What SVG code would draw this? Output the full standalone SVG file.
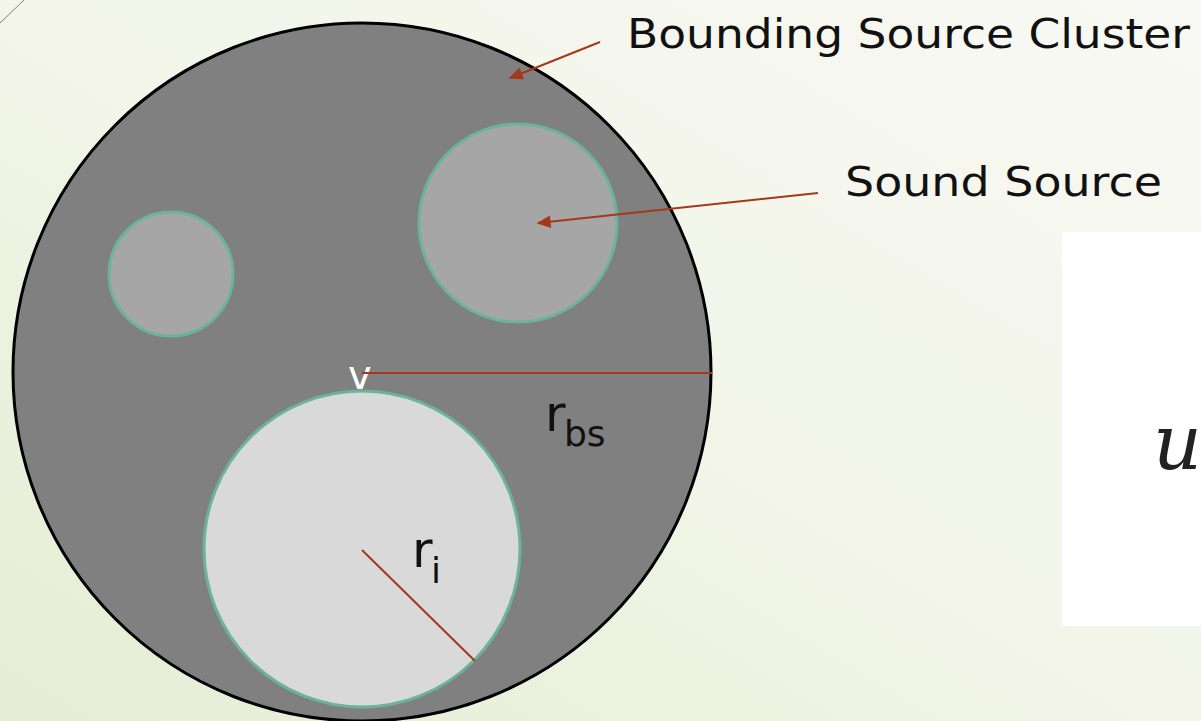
<svg xmlns="http://www.w3.org/2000/svg" width="1201" height="721" viewBox="0 0 1201 721">
<defs>
<linearGradient id="bg" x1="0" y1="1" x2="1" y2="0">
<stop offset="0" stop-color="#e6ecd4"/>
<stop offset="0.5" stop-color="#f2f5e8"/>
<stop offset="1" stop-color="#f8f9f4"/>
</linearGradient>
<marker id="ah" viewBox="0 0 10 10" refX="9" refY="5" markerWidth="7.5" markerHeight="7" orient="auto" markerUnits="strokeWidth">
<path d="M0,0.5 L10,5 L0,9.5 z" fill="#a5371b"/>
</marker>
<style>
.lbl{font-family:"DejaVu Sans","Liberation Sans",sans-serif;fill:#111;}
.src{stroke:#6bb39a;stroke-width:3;}
.con{stroke:#a5371b;stroke-width:2;fill:none;}
</style>
</defs>
<rect width="1201" height="721" fill="url(#bg)"/>
<line x1="0" y1="23" x2="24" y2="0" stroke="#8a7a6a" stroke-width="1"/>
<g id="cluster">
<circle cx="362" cy="372" r="349" fill="#808080" stroke="#000" stroke-width="3"/>
</g>
<g id="source-small">
<circle cx="171" cy="274" r="62" fill="#a6a6a6" class="src"/>
</g>
<g id="source-medium">
<circle cx="518" cy="223" r="99" fill="#a6a6a6" class="src"/>
</g>
<g id="source-large">
<circle cx="362" cy="549" r="158" fill="#d9d9d9" class="src"/>
</g>
<text x="348" y="389" class="lbl" font-size="40" style="fill:#fff">v</text>
<g id="connectors">
<line x1="600" y1="42" x2="510" y2="78" class="con" marker-end="url(#ah)"/>
<line x1="818" y1="193" x2="538" y2="223" class="con" marker-end="url(#ah)"/>
<line x1="362" y1="373" x2="712" y2="373" class="con"/>
<line x1="362" y1="550" x2="475" y2="661" class="con"/>
</g>
<text x="545" y="431" class="lbl" font-size="50">r</text>
<text x="564" y="446" class="lbl" font-size="36">bs</text>
<text x="412" y="567" class="lbl" font-size="50">r</text>
<text x="431" y="583" class="lbl" font-size="36">i</text>
<text x="627" y="48" class="lbl" font-size="41" textLength="563" lengthAdjust="spacingAndGlyphs">Bounding Source Cluster</text>
<text x="845" y="196" class="lbl" font-size="41" textLength="317" lengthAdjust="spacingAndGlyphs">Sound Source</text>
<g id="formula">
<rect x="1062" y="232" width="139" height="394" fill="#fff"/>
<text x="1153" y="469" font-family="'DejaVu Serif','Liberation Serif',serif" font-style="italic" font-size="76" fill="#222">u</text>
</g>
</svg>
